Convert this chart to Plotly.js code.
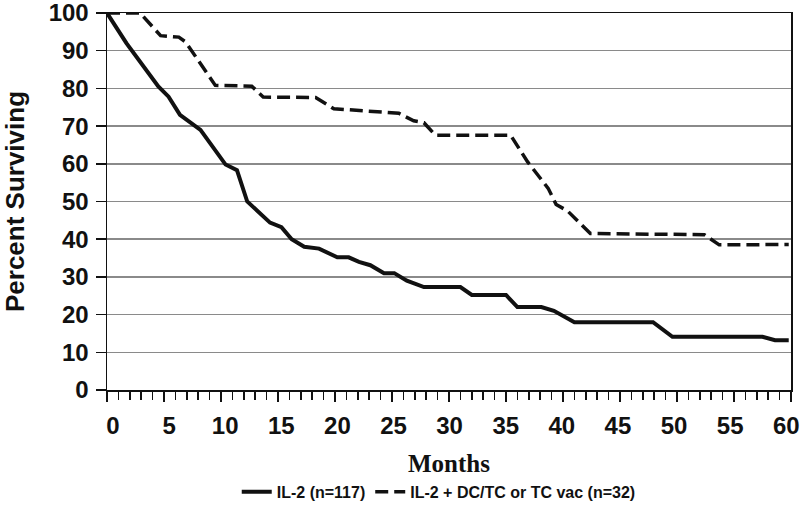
<!DOCTYPE html>
<html>
<head>
<meta charset="utf-8">
<script src="https://cdn.plot.ly/plotly-3.0.1.min.js"></script>
<style>html,body{margin:0;padding:0;background:#fff}#chart{width:800px;height:507px}</style>
</head>
<body>
<div id="chart"></div>
<script>
// IL-2 alone (n=117)
const il2Months = [0, 1.4, 1.7, 4.5, 5.4, 6.4, 7.4, 8.2, 10.4, 11.4, 12.3, 14.3, 15.3, 16.2, 17.3, 18.6, 20.2, 21.2, 22.1, 23.1, 24.3, 25.2, 26.3, 27.8, 31.0, 32.0, 35.0, 36.0, 38.1, 39.2, 41.0, 47.9, 49.6, 57.5, 58.6, 59.8];
const il2Pct    = [100, 93, 92, 80.5, 77.8, 73, 70.8, 69, 59.8, 58.3, 50, 44.4, 43.2, 40, 38, 37.5, 35.2, 35.2, 34, 33.1, 31, 31, 29, 27.3, 27.3, 25.2, 25.2, 22, 22, 21, 18, 18, 14.1, 14.1, 13.2, 13.2];

// IL-2 + DC/TC or TC vaccine (n=32)
const vacMonths = [0, 2.9, 4.7, 6.3, 6.9, 9.5, 12.7, 13.7, 18.3, 19.9, 25.6, 26.9, 27.8, 28.8, 35.4, 36.9, 38.7, 39.4, 40.4, 42.4, 52.4, 53.7, 59.8];
const vacPct    = [100, 100, 94, 93.6, 92.3, 80.8, 80.6, 77.7, 77.6, 74.6, 73.4, 71.4, 70.9, 67.6, 67.6, 60.5, 53.5, 49.2, 47.5, 41.5, 41.2, 38.5, 38.6];

const seriesNames = ["IL-2 (n=117)", "IL-2 + DC/TC or TC vac (n=32)"];
const xTickVals = [0, 5, 10, 15, 20, 25, 30, 35, 40, 45, 50, 55, 60];
const yTickVals = [0, 10, 20, 30, 40, 50, 60, 70, 80, 90, 100];

const sans = "Liberation Sans, Arial, sans-serif";
const data = [
  {x: il2Months, y: il2Pct, type: "scatter", mode: "lines", name: seriesNames[0],
   line: {color: "#111", width: 4}},
  {x: vacMonths, y: vacPct, type: "scatter", mode: "lines", name: seriesNames[1],
   line: {color: "#111", width: 3.5, dash: "13px,6px"}},
  // empty carrier so the label-only month axis is drawn; it holds no data
  {x: [], y: [], type: "scatter", mode: "lines", xaxis: "x2", yaxis: "y",
   showlegend: false, hoverinfo: "skip"}
];

const layout = {
  width: 800, height: 507,
  margin: {l: 107, r: 9, t: 13, b: 117, autoexpand: false},
  paper_bgcolor: "#fff", plot_bgcolor: "#fff",
  showlegend: true,
  legend: {orientation: "h", x: 0.485, xanchor: "center", y: -0.27, yanchor: "middle",
           font: {family: sans, size: 16, color: "#111", weight: "bold"}, itemwidth: 30},
  xaxis: {
    range: [0, 60], tickvals: xTickVals, showticklabels: false,
    ticks: "outside", ticklen: 10, tickwidth: 1.5, tickcolor: "#111",
    minor: {dtick: 1, tick0: 0, ticks: "outside", ticklen: 8, tickwidth: 1.5, tickcolor: "#111", showgrid: false},
    showgrid: false, zeroline: false, automargin: false,
    showline: true, linecolor: "#111", linewidth: 1.5, mirror: true
  },
  // label-only axis: the month labels sit on a slightly narrower span, as in the source figure
  xaxis2: {
    overlaying: "x", anchor: "y", side: "bottom",
    range: [-0.53, 60.42], tickvals: xTickVals, ticktext: xTickVals.map(String),
    ticks: "outside", ticklen: 10, tickcolor: "rgba(0,0,0,0)", ticklabelstandoff: 4,
    showgrid: false, zeroline: false, showline: false, automargin: false, ticklabeloverflow: "allow",
    tickfont: {family: sans, size: 24, color: "#111", weight: "bold"},
    title: {text: "Months", font: {family: "Liberation Serif, Times New Roman, serif", size: 25, color: "#111", weight: "bold"}, standoff: 16}
  },
  yaxis: {
    range: [0, 100], tickvals: yTickVals, ticktext: yTickVals.map(String),
    ticks: "outside", ticklen: 10, tickwidth: 1.5, tickcolor: "#111", ticklabelstandoff: 2,
    showgrid: true, gridcolor: "#8a8a8a", gridwidth: 1.5, zeroline: false, automargin: false, ticklabeloverflow: "allow",
    showline: true, linecolor: "#111", linewidth: 1.5, mirror: true,
    tickfont: {family: sans, size: 24, color: "#111", weight: "bold"},
    title: {text: "Percent Surviving", font: {family: sans, size: 26, color: "#111", weight: "bold"}, standoff: 30}
  }
};

Plotly.newPlot("chart", data, layout, {staticPlot: true, displayModeBar: false});
</script>
</body>
</html>
